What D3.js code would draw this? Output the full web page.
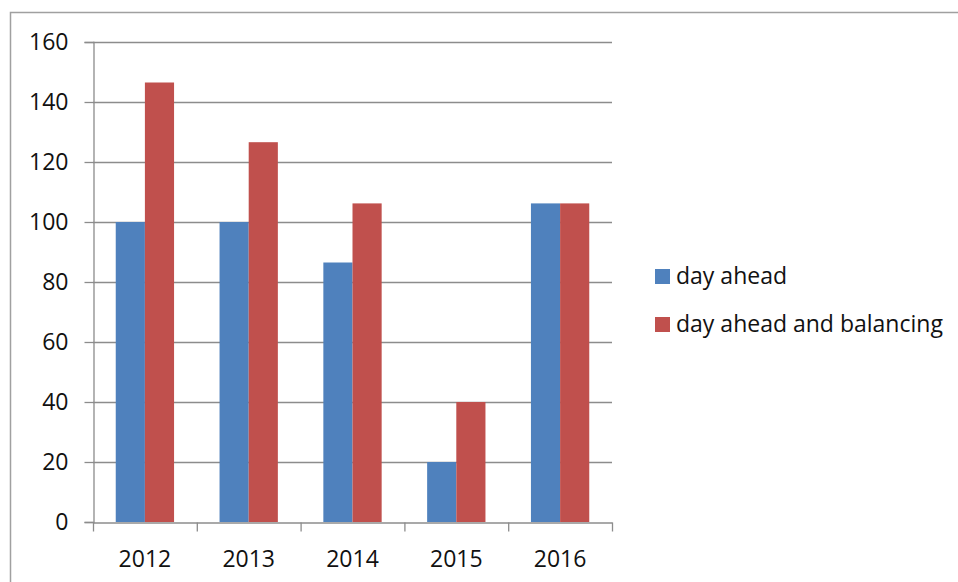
<!DOCTYPE html>
<html>
<head>
<meta charset="utf-8">
<script src="https://cdn.jsdelivr.net/npm/d3@7"></script>
<style>
  html, body { margin: 0; padding: 0; background: #fff; }
  svg { display: block; }
  text { font-family: "Open Sans", Lato, sans-serif; fill: #111; }
</style>
</head>
<body>
<svg id="chart" width="958" height="582"></svg>
<script>
const categories = ["2012", "2013", "2014", "2015", "2016"];
const seriesNames = ["day ahead", "day ahead and balancing"];
const dayAhead = [100, 100, 86.5, 20, 106.2];
const dayAheadBalancing = [146.5, 126.6, 106.2, 40, 106.2];
const yTicks = [0, 20, 40, 60, 80, 100, 120, 140, 160];
const colors = ["#4f81bd", "#c0504d"];

const svg = d3.select("#chart");
const margin = { left: 93, right: 612, top: 42, bottom: 522 };
const FONT = "\"Open Sans\", Lato, sans-serif";

// outer frame
svg.append("rect")
  .attr("x", 10.5).attr("y", 12.5)
  .attr("width", 1000).attr("height", 1000)
  .attr("fill", "none").attr("stroke", "#a0a0a0").attr("stroke-width", 1.5);

const x = d3.scaleBand().domain(categories).range([margin.left, margin.right]).paddingInner(0).paddingOuter(0);
const x1 = d3.scaleBand().domain(seriesNames).range([0, x.bandwidth()]).paddingInner(0).paddingOuter(0.78);
const y = d3.scaleLinear().domain([0, 160]).range([margin.bottom, margin.top]);

// gridlines
svg.append("g").selectAll("line").data(yTicks.filter(d => d > 0)).join("line")
  .attr("x1", margin.left).attr("x2", margin.right)
  .attr("y1", d => Math.round(y(d)) + 0.5).attr("y2", d => Math.round(y(d)) + 0.5)
  .attr("stroke", "#8c8c8c").attr("stroke-width", 1.3);

// bars
const data = categories.map((c, i) => ({ c, vals: [dayAhead[i], dayAheadBalancing[i]] }));
svg.append("g").selectAll("g").data(data).join("g")
  .attr("transform", d => `translate(${x(d.c)},0)`)
  .selectAll("rect").data(d => d.vals.map((v, j) => ({ v, s: seriesNames[j], j })))
  .join("rect")
  .attr("x", d => x1(d.s)).attr("width", x1.bandwidth())
  .attr("y", d => y(d.v)).attr("height", d => y(0) - y(d.v))
  .attr("fill", d => colors[d.j]);

// y axis
const yAxis = d3.axisLeft(y).tickValues(yTicks).tickSize(9).tickPadding(16);
const gy = svg.append("g").attr("transform", `translate(${margin.left + 0.5},0)`).call(yAxis);
gy.select(".domain").attr("stroke", "#8c8c8c").attr("stroke-width", 1.3);
gy.selectAll(".tick line").attr("stroke", "#8c8c8c").attr("stroke-width", 1.3);
gy.selectAll(".tick text").style("font-size", "23px").style("font-family", FONT).attr("fill", "#111");

// x axis
const xAxis = d3.axisBottom(x).tickSize(0).tickPadding(0);
const gx = svg.append("g").attr("transform", `translate(0,${margin.bottom + 0.5})`).call(xAxis);
gx.select(".domain").attr("stroke", "#8c8c8c").attr("stroke-width", 1.3);
gx.selectAll(".tick text").attr("dy", null).attr("y", 44).style("font-size", "23px").style("font-family", FONT).attr("fill", "#111");
// category boundary ticks
const bounds = categories.map(c => x(c)).concat([margin.right]);
gx.selectAll("line.bound").data(bounds).join("line").attr("class", "bound")
  .attr("x1", d => d + 0.5).attr("x2", d => d + 0.5).attr("y1", 0).attr("y2", 9)
  .attr("stroke", "#8c8c8c").attr("stroke-width", 1.3);

// legend
const legend = svg.append("g").attr("transform", "translate(655,269)");
seriesNames.forEach((s, i) => {
  const g = legend.append("g").attr("transform", `translate(0,${i * 48})`);
  g.append("rect").attr("width", 15).attr("height", 15).attr("fill", colors[i]);
  g.append("text").attr("x", 21).attr("y", 15).style("font-size", "23px").style("font-family", FONT).attr("fill", "#111").text(s);
});
</script>
</body>
</html>
